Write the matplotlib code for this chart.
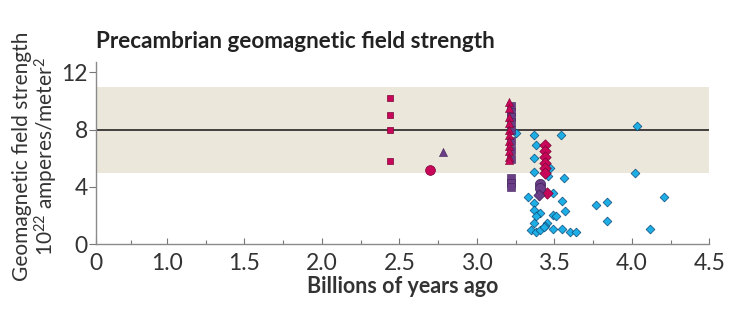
import numpy as np
import matplotlib
matplotlib.use("Agg")
import matplotlib.pyplot as plt

plt.rcParams['font.family'] = ['Lato', 'DejaVu Sans']
plt.rcParams['mathtext.fontset'] = 'custom'
plt.rcParams['mathtext.rm'] = 'Lato'
plt.rcParams['mathtext.it'] = 'Lato:italic'
plt.rcParams['mathtext.default'] = 'regular'

# ---- data (billions of years ago, 10^22 A/m^2) ----
sq_mag_x = [2.44, 2.44, 2.44, 2.44]
sq_mag_y = [10.2, 9.0, 8.0, 5.8]

circ_mag_x = [2.70]
circ_mag_y = [5.2]

tri_pur_x = [2.78]
tri_pur_y = [6.45]

tri_mag_x = [3.21] * 11
tri_mag_y = [9.9, 9.5, 8.9, 8.5, 8.0, 7.6, 7.2, 6.85, 6.5, 6.1, 5.85]

sq_pur_x = [3.22] * 11
sq_pur_y = [9.65, 9.25, 8.88, 8.55, 7.98, 7.2, 6.6, 5.95, 4.6, 4.26, 3.98]

dia_mag_x = [3.44, 3.44, 3.44, 3.44, 3.44, 3.44, 3.45]
dia_mag_y = [6.9, 6.5, 6.1, 5.7, 5.3, 5.0, 3.6]

circ_pur_x = [3.41, 3.41]
circ_pur_y = [4.2, 3.9]
dia_pur_x = [3.40]
dia_pur_y = [3.45]

dia_blue_x = [3.25, 3.37, 3.54, 3.38, 3.37, 3.37, 3.47, 3.46, 3.56, 3.33,
              3.41, 3.49, 3.37, 3.55, 3.37, 3.41, 3.38, 3.49, 3.51, 3.57,
              3.45, 3.37, 3.44, 3.35, 3.38, 3.41, 3.49, 3.55, 3.60, 3.64,
              4.03, 4.02, 4.21, 3.77, 3.84, 3.84, 4.12, 3.43]
dia_blue_y = [7.75, 7.62, 7.62, 6.93, 6.0, 5.05, 5.3, 4.77, 4.6, 3.3,
              3.67, 3.6, 2.9, 3.05, 2.39, 2.16, 1.97, 2.04, 1.95, 2.34,
              1.51, 1.47, 1.3, 1.0, 0.88, 1.0, 1.05, 1.05, 0.88, 0.88,
              8.26, 4.95, 3.28, 2.74, 2.97, 1.63, 1.05, 1.2]

band_low, band_high = 5, 11
present_value = 8

major_ticks = [0, 1.0, 1.5, 2.0, 2.5, 3.0, 3.5, 4.0, 4.5]
major_labels = ['0', '1.0', '1.5', '2.0', '2.5', '3.0', '3.5', '4.0', '4.5']
minor_ticks = [0.5, 1.25, 1.75, 2.25, 2.75, 3.25, 3.75, 4.25]
y_ticks = [0, 4, 8, 12]

# ---- broken (piecewise-linear) x scale ----
K = 71.0 / 155.0
def fwd(x):
    x = np.asarray(x, dtype=float)
    return np.where(x < 1, x * K, K + (x - 1))
def inv(y):
    y = np.asarray(y, dtype=float)
    return np.where(y < K, y / K, y - K + 1)

MAG = '#c8075a'
MAG_E = '#7a0536'
PUR = '#6a3d87'
PUR_E = '#3f2055'
BLUE = '#1eaee6'
BLUE_E = '#0d4a78'

fig = plt.figure(figsize=(7.3, 3.13), dpi=100)
ax = fig.add_axes([0.1315, 0.2195, 0.9717 - 0.1315, 0.803 - 0.2195])
ax.set_xscale('function', functions=(fwd, inv))
ax.set_xlim(0, 4.5)
ax.set_ylim(0, 12.75)

ax.axhspan(band_low, band_high, color='#ece7db', lw=0, zorder=0)
ax.axhline(present_value, color='#333333', lw=1.3, zorder=1)

ax.scatter(dia_blue_x, dia_blue_y, marker='D', s=20, c=BLUE, edgecolors=BLUE_E, linewidths=0.5, zorder=3)
ax.scatter(sq_mag_x, sq_mag_y, marker='s', s=22, c=MAG, edgecolors=MAG_E, linewidths=0.5, zorder=4)
ax.scatter(circ_mag_x, circ_mag_y, marker='o', s=50, c=MAG, edgecolors=MAG_E, linewidths=0.5, zorder=4)
ax.scatter(tri_pur_x, tri_pur_y, marker='^', s=34, c=PUR, edgecolors=PUR_E, linewidths=0.4, zorder=4)
ax.scatter(sq_pur_x, sq_pur_y, marker='s', s=26, c=PUR, edgecolors=PUR_E, linewidths=0.4, zorder=4)
ax.scatter(tri_mag_x, tri_mag_y, marker='^', s=34, c=MAG, edgecolors=MAG_E, linewidths=0.4, zorder=5)
ax.scatter(dia_mag_x, dia_mag_y, marker='D', s=34, c=MAG, edgecolors=MAG_E, linewidths=0.5, zorder=4)
ax.scatter(circ_pur_x, circ_pur_y, marker='o', s=55, c=PUR, edgecolors=PUR_E, linewidths=0.5, zorder=5)
ax.scatter(dia_pur_x, dia_pur_y, marker='D', s=32, c=PUR, edgecolors=PUR_E, linewidths=0.5, zorder=5)

for s in ['top', 'right']:
    ax.spines[s].set_visible(False)
for s in ['left', 'bottom']:
    ax.spines[s].set_color('#8a8a8a')
    ax.spines[s].set_linewidth(1.0)

ax.set_xticks(major_ticks)
ax.set_xticklabels(major_labels)
ax.set_xticks(minor_ticks, minor=True)
ax.set_yticks(y_ticks)
ax.tick_params(axis='x', which='major', direction='in', length=4, width=0.8,
               color='#777777', labelsize=16.5, labelcolor='#333333', pad=6)
ax.tick_params(axis='x', which='minor', direction='in', length=3, width=0.8, color='#777777')
ax.tick_params(axis='y', which='major', direction='out', length=5, width=0.8,
               color='#777777', labelsize=16.5, labelcolor='#333333', pad=1)

ax.set_xlabel('Billions of years ago', fontsize=15.5, fontweight='bold', color='#333333', labelpad=2)
ax.set_ylabel('Geomagnetic ﬁeld strength\n10$^{22}$ amperes/meter$^{2}$', fontsize=15,
              color='#333333', labelpad=0, linespacing=1.05)
ax.yaxis.set_label_coords(-0.058, 0.48)

fig.text(96 / 730, 1 - 41 / 313, 'Precambrian geomagnetic ﬁeld strength', fontsize=16.2,
         fontweight='bold', color='#222222', va='center', ha='left')

fig.savefig('out.png', dpi=100)
